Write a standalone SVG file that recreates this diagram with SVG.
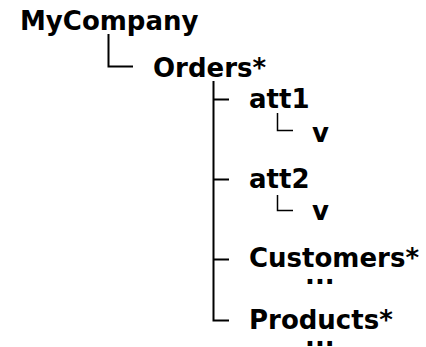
<svg xmlns="http://www.w3.org/2000/svg" width="426" height="347" viewBox="0 0 426 347">
<style>
text{font-family:"DejaVu Sans","Verdana",sans-serif;font-weight:bold;font-size:26px;fill:#000}
.ln{fill:none;stroke:#000;stroke-width:2}
.sm{fill:none;stroke:#000;stroke-width:1.5}
</style>
<rect width="426" height="347" fill="#fff"/>
<g id="connectors">
<path class="ln" d="M108.5 34V66.5H133"/>
<path class="ln" d="M213.5 81V320.5H229"/>
<path class="ln" d="M213.5 99.5H229M213.5 179.5H229M213.5 259.5H229"/>
<path class="sm" d="M277.5 113V130.5H293"/>
<path class="sm" d="M277.5 195V210.5H293"/>
</g>
<g id="MyCompany"><text x="20" y="30">MyCompany</text></g>
<g id="Orders"><text x="153" y="77">Orders*</text></g>
<g id="att1"><text x="249" y="108">att1</text></g>
<g id="att1_v"><text x="312" y="142">v</text></g>
<g id="att2"><text x="249" y="188">att2</text></g>
<g id="att2_v"><text x="312" y="220">v</text></g>
<g id="Customers"><text x="249" y="267">Customers*</text><text x="305" y="284">...</text></g>
<g id="Products"><text x="249" y="329">Products*</text><text x="305" y="346">...</text></g>
</svg>
